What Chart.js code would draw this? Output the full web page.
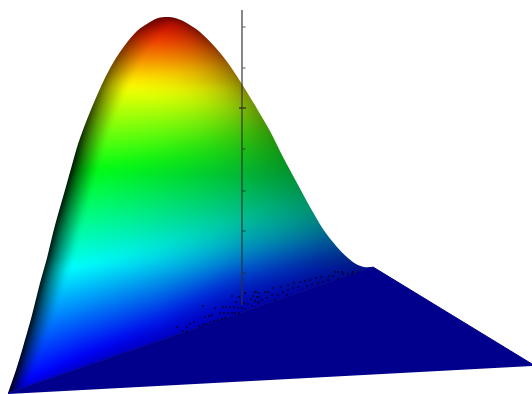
<!DOCTYPE html>
<html><head><meta charset="utf-8">
<style>html,body{margin:0;padding:0;background:#fff}canvas{display:block}</style>
<script src="https://cdn.jsdelivr.net/npm/chart.js@4"></script>
</head><body><canvas id="c" width="532" height="394"></canvas>
<script>
// outline of the surface seen from the viewpoint (x, y)
const outlineX = [8,16,23,32,40,47,53,57,65,72,78,86,95,104,113,125,137,150,158,167,175,185,200,215,228,240,253,270,283,297,310,323,337,348,356,364,373];
const outlineY = [393,370,347,315,283,258,233,218,190,165,144,122,100,80,63,45,31,22,18,17,18,22,32,47,63,81,102,131,157,183,207,229,247,258,264,267,267];
const ridgeX = [8,373];
const ridgeY = [393,267];
const floorTopX = [8,373,532];
const floorTopY = [393,267,364];
const floorBottomX = [8,532];
const floorBottomY = [394,366];
// vertical axis and its ticks
const axisX = [242,242];
const axisY = [10,305];
const tickX = [244,244,244,244,244,244];
const tickY = [27,68,149,191,231,273];
const majorTickX = [242.5];
const majorTickY = [108];
// dark speckles near the ridge
const dotX = [177,183,187,187,190,194,199,203,206,210,214,218,222,225,205,209,212,203,215,223,226,230,234,220,224,228,232,235,239,238,242,245,232,239,245,236,244,248,252,251,255,259,253,257,255,259,256,259,258,262,265,267,272,273,278,281,283,288,288,294,293,298,300,305,307,310,312,316,318,321,323,329,328,333,335,338,342,343,348,352,353,358,338,268,275,287];
const dotY = [327,331,327,332,324,322,326,325,324,322,321,320,319,318,317,316,315,306,308,307,307,307,307,313,313,313,313,313,313,308,308,309,296,297,293,302,303,304,306,299,301,302,296,297,292,293,292,297,303,300,292,298,295,288,295,287,292,285,290,283,288,287,282,281,286,280,284,278,283,277,282,276,280,276,272,272,272,274,274,274,272,272,279,292,300,295];
// height bands of the colour ramp: y of each colour at columns of the picture
const bandX = [0,80,160,240,320,400];
const bandBlue = [392,356,328,290,268,262];
const bandCyan = [275,266,252,238,225,212];
const bandGreen = [172,170,164,156,150,144];
const bandYellow = [85,85,85,86,86,86];
const bandRed = [30,30,30,30,30,30];
const bandTop = [17,17,17,17,17,17];
const rampColors = [[150,0,0],[235,20,0],[255,255,0],[0,255,20],[0,255,255],[0,0,255],[0,0,200]];

function lerpTable(xs,ys,x){
  if(x<=xs[0])return ys[0];
  for(let i=1;i<xs.length;i++){ if(x<=xs[i]){const t=(x-xs[i-1])/(xs[i]-xs[i-1]);return ys[i-1]+t*(ys[i]-ys[i-1]);} }
  return ys[ys.length-1];
}
const peak=outlineY.indexOf(Math.min(...outlineY));
function leftEdge(y){
  for(let i=1;i<=peak;i++){ if(y>=outlineY[i]){const t=(y-outlineY[i-1])/(outlineY[i]-outlineY[i-1]);return outlineX[i-1]+t*(outlineX[i]-outlineX[i-1]);} }
  return outlineX[peak];
}
function rightEdge(y){
  for(let i=peak+1;i<outlineX.length;i++){ if(y<=outlineY[i]){const t=(y-outlineY[i-1])/(outlineY[i]-outlineY[i-1]||1);return outlineX[i-1]+t*(outlineX[i]-outlineX[i-1]);} }
  return 373;
}
function rampAt(ladder,y){
  for(let m=1;m<7;m++){
    if(y<=ladder[m]){
      const t=Math.max(0,(y-ladder[m-1])/(ladder[m]-ladder[m-1]));
      const a=rampColors[m-1],b=rampColors[m];
      return [a[0]+t*(b[0]-a[0]),a[1]+t*(b[1]-a[1]),a[2]+t*(b[2]-a[2])];
    }
  }
  return rampColors[6];
}
function makeShade(){
  const off=document.createElement('canvas');off.width=532;off.height=394;
  const g=off.getContext('2d'),im=g.createImageData(532,394),d=im.data;
  for(let y=0;y<394;y++){
    const L=leftEdge(y),R=rightEdge(y);
    const leftMin=Math.max(0.06,Math.min(0.55,(170-y)/170*0.7));
    const leftW=y<250?26:26-(y-250)/144*12;
    const k=y<85?4:Math.max(1.5,5-(y-85)*0.04);
    for(let x=0;x<532;x++){
      const ladder=[lerpTable(bandX,bandTop,x),lerpTable(bandX,bandRed,x),lerpTable(bandX,bandYellow,x),lerpTable(bandX,bandGreen,x),lerpTable(bandX,bandCyan,x),lerpTable(bandX,bandBlue,x),lerpTable(ridgeX,ridgeY,x)];
      const spread=Math.max(1,Math.min(12,(x-80)/14));
      const c=[0,0,0];
      for(let n=-2;n<=2;n++){const p=rampAt(ladder,y+n*spread);c[0]+=p[0]/5;c[1]+=p[1]/5;c[2]+=p[2]/5;}
      const dl=Math.max(0,x-L);
      const bl=leftMin+(1-leftMin)*Math.pow(Math.min(1,dl/leftW),0.7);
      const frac=Math.max(0,Math.min(1,(x-L)/Math.max(1,R-L)));
      const br=1-0.42*Math.pow(frac,k);
      const s=bl*br,i=(y*532+x)*4;
      d[i]=c[0]*s;d[i+1]=c[1]*s;d[i+2]=c[2]*s;d[i+3]=255;
    }
  }
  g.putImageData(im,0,0);
  const soft=document.createElement('canvas');soft.width=532;soft.height=394;
  const h=soft.getContext('2d');
  h.filter='blur(2.5px)';
  h.drawImage(off,0,0);
  h.filter='none';
  h.globalCompositeOperation='destination-over';
  h.drawImage(off,0,0);
  return soft;
}
const pts=(xs,ys)=>xs.map((x,i)=>({x:x,y:ys[i]}));
const ctx=document.getElementById('c').getContext('2d');
const shade=ctx.createPattern(makeShade(),'no-repeat');
const navy='rgb(0,0,140)';
new Chart(ctx,{
  type:'scatter',
  data:{datasets:[
    {label:'axis',data:pts(axisX,axisY),showLine:true,borderColor:'rgba(50,50,50,0.72)',borderWidth:1.6,pointRadius:0,order:1},
    {label:'ticks',data:pts(tickX,tickY),pointStyle:'line',pointRadius:1.5,borderColor:'rgba(40,40,40,0.8)',borderWidth:1,order:1},
    {label:'major tick',data:pts(majorTickX,majorTickY),pointStyle:'line',pointRadius:3.5,borderColor:'rgba(40,40,40,0.8)',borderWidth:1.5,order:1},
    {label:'speckles',data:pts(dotX,dotY),pointStyle:'rect',pointRadius:1.2,backgroundColor:'rgb(0,0,40)',borderWidth:0,order:2},
    {label:'surface',data:pts(outlineX,outlineY),showLine:true,tension:0.3,borderWidth:0,pointRadius:0,backgroundColor:shade,fill:'+1',order:4},
    {label:'ridge',data:pts(ridgeX,ridgeY),showLine:true,borderWidth:0,pointRadius:0,order:5},
    {label:'floor',data:pts(floorTopX,floorTopY),showLine:true,borderWidth:1,borderColor:navy,pointRadius:0,backgroundColor:navy,fill:'+1',order:3},
    {label:'floor edge',data:pts(floorBottomX,floorBottomY),showLine:true,borderWidth:0,pointRadius:0,order:6}
  ]},
  options:{
    responsive:false,animation:false,
    layout:{padding:0,autoPadding:false},
    plugins:{legend:{display:false},tooltip:{enabled:false}},
    scales:{
      x:{type:'linear',min:0,max:532,display:false},
      y:{type:'linear',min:0,max:394,reverse:true,display:false}
    }
  }
});
</script></body></html>
